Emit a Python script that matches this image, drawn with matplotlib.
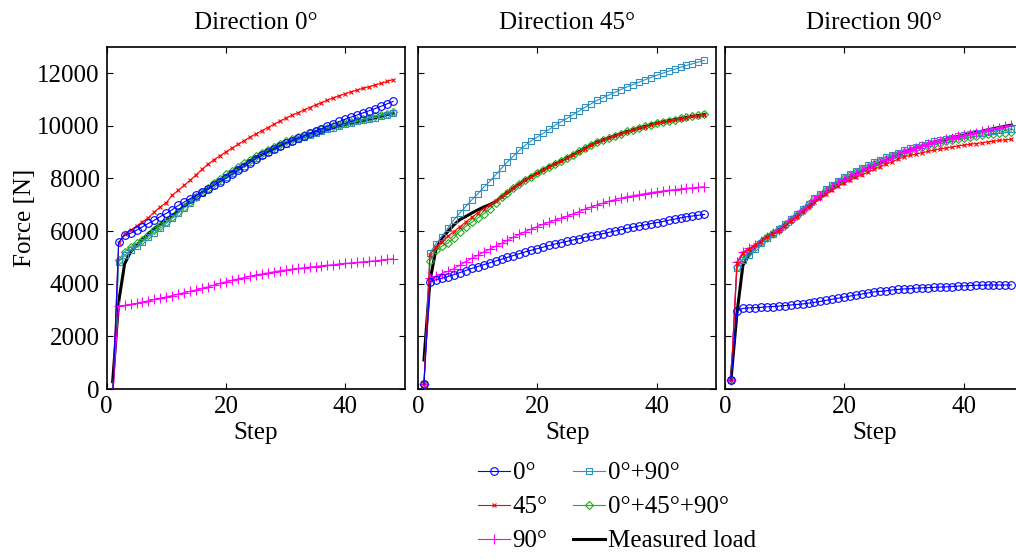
import numpy as np
import matplotlib
matplotlib.use('Agg')
import matplotlib.pyplot as plt

plt.rcParams['font.family'] = ['Liberation Serif', 'DejaVu Serif']

steps = np.arange(1, 49)
titles = ['Direction 0°', 'Direction 45°', 'Direction 90°']
labels = ['0°', '45°', '90°', '0°+90°', '0°+45°+90°', 'Measured load']

# ---- Direction 0 ----
d0_deg0 = [-300, 5565, 5840, 5910, 6030, 6160, 6290, 6410, 6550, 6670, 6810, 6970, 7100, 7230, 7360, 7480,
           7610, 7740, 7870, 8000, 8150, 8300, 8450, 8600, 8750, 8870, 8990, 9100, 9220, 9330, 9430, 9520,
           9610, 9710, 9800, 9890, 9980, 10070, 10160, 10250, 10330, 10410, 10490, 10570, 10650, 10740, 10830, 10920]
d0_deg45 = [-300, 5530, 5900, 6030, 6190, 6350, 6510, 6730, 6920, 7080, 7360, 7550, 7740, 7930, 8140, 8350,
            8540, 8710, 8860, 9010, 9150, 9290, 9430, 9560, 9690, 9810, 9930, 10050, 10170, 10280, 10390, 10490,
            10590, 10690, 10790, 10880, 10970, 11060, 11140, 11220, 11290, 11360, 11420, 11480, 11550, 11610, 11680, 11750]
d0_deg90 = [-300, 3150, 3175, 3210, 3250, 3300, 3350, 3400, 3450, 3500, 3550, 3600, 3660, 3710, 3760, 3820,
            3880, 3950, 4010, 4070, 4130, 4180, 4230, 4280, 4330, 4370, 4410, 4450, 4490, 4520, 4550, 4580,
            4600, 4630, 4650, 4680, 4700, 4720, 4750, 4770, 4790, 4810, 4830, 4850, 4870, 4890, 4920, 4940]
d0_deg0_90 = [-300, 4830, 5080, 5270, 5430, 5590, 5780, 5940, 6120, 6290, 6480, 6680, 6880, 7080, 7280, 7440,
              7600, 7760, 7910, 8060, 8200, 8340, 8480, 8620, 8760, 8880, 8990, 9100, 9210, 9320, 9410, 9490,
              9570, 9650, 9730, 9800, 9870, 9930, 9990, 10050, 10110, 10160, 10210, 10260, 10310, 10370, 10420, 10480]
d0_deg0_45_90 = [-300, 4890, 5210, 5400, 5530, 5650, 5840, 6030, 6190, 6350, 6540, 6730, 6920, 7110, 7300, 7470,
                 7640, 7810, 7980, 8150, 8290, 8430, 8570, 8710, 8850, 8960, 9070, 9180, 9290, 9400, 9480, 9560,
                 9640, 9720, 9800, 9860, 9920, 9980, 10040, 10100, 10150, 10200, 10250, 10300, 10350, 10410, 10460, 10520]
d0_measured = [280, 3300, 4750, 5210, 5460, 5680, 5900, 6100, 6260, 6420, 6590, 6760, 6940, 7120, 7300, 7460,
               7620, 7780, 7940, 8100, 8240, 8380, 8520, 8660, 8800, 8910, 9020, 9130, 9240, 9350, 9430, 9510,
               9590, 9670, 9750, 9810, 9870, 9930, 9990, 10050, 10100, 10150, 10200, 10250, 10300, 10360, 10420, 10480]

# ---- Direction 45 ----
d45_deg0 = [190, 4080, 4150, 4210, 4270, 4340, 4420, 4500, 4580, 4650, 4720, 4790, 4860, 4930, 5000, 5070,
            5140, 5210, 5270, 5330, 5390, 5450, 5510, 5560, 5610, 5660, 5710, 5760, 5800, 5850, 5900, 5950,
            6000, 6050, 6100, 6140, 6190, 6230, 6280, 6320, 6360, 6410, 6450, 6500, 6540, 6570, 6600, 6630]
d45_deg45 = [190, 5100, 5400, 5600, 5800, 5980, 6160, 6340, 6520, 6690, 6850, 7000, 7150, 7310, 7470, 7630,
             7780, 7940, 8070, 8200, 8320, 8450, 8550, 8660, 8770, 8890, 9010, 9130, 9250, 9370, 9450, 9530,
             9610, 9690, 9770, 9830, 9900, 9960, 10030, 10090, 10130, 10180, 10220, 10270, 10310, 10350, 10380, 10420]
d45_deg90 = [190, 4200, 4290, 4380, 4470, 4570, 4700, 4840, 4960, 5080, 5200, 5310, 5420, 5530, 5650, 5760,
             5880, 5980, 6080, 6170, 6260, 6340, 6420, 6490, 6560, 6650, 6740, 6830, 6910, 6990, 7060, 7130,
             7190, 7250, 7300, 7340, 7380, 7420, 7460, 7490, 7520, 7550, 7570, 7600, 7620, 7640, 7660, 7680]
d45_deg0_90 = [190, 5160, 5520, 5790, 6110, 6420, 6680, 6930, 7180, 7410, 7660, 7880, 8130, 8380, 8630, 8850,
               9070, 9260, 9430, 9570, 9710, 9860, 10020, 10150, 10280, 10420, 10560, 10700, 10830, 10960, 11060, 11160,
               11270, 11370, 11470, 11560, 11650, 11740, 11830, 11910, 11990, 12070, 12140, 12220, 12290, 12350, 12420, 12480]
d45_deg0_45_90 = [190, 4850, 5290, 5420, 5540, 5730, 5980, 6170, 6330, 6490, 6650, 6830, 7060, 7280, 7460, 7630,
                  7780, 7940, 8070, 8190, 8320, 8450, 8550, 8660, 8780, 8900, 9020, 9140, 9260, 9380, 9460, 9540,
                  9620, 9700, 9780, 9840, 9910, 9970, 10040, 10100, 10140, 10190, 10230, 10280, 10320, 10360, 10390, 10430]
d45_measured = [1100, 4100, 5300, 5730, 5980, 6230, 6430, 6550, 6680, 6800, 6910, 7000, 7120, 7290, 7460, 7630,
                7780, 7940, 8070, 8190, 8320, 8450, 8550, 8660, 8780, 8900, 9020, 9140, 9260, 9380, 9460, 9540,
                9620, 9700, 9780, 9840, 9910, 9970, 10040, 10100, 10140, 10190, 10230, 10280, 10320, 10360, 10390, 10430]

# ---- Direction 90 ----
d90_deg0 = [340, 2970, 3060, 3080, 3090, 3100, 3120, 3130, 3150, 3170, 3190, 3210, 3230, 3260, 3290, 3330,
            3370, 3410, 3450, 3490, 3530, 3570, 3610, 3650, 3690, 3710, 3730, 3760, 3780, 3800, 3810, 3830,
            3840, 3850, 3860, 3870, 3880, 3890, 3910, 3920, 3930, 3940, 3940, 3950, 3950, 3950, 3950, 3950]
d90_deg45 = [340, 4770, 5150, 5320, 5450, 5600, 5760, 5890, 6010, 6190, 6370, 6550, 6730, 6910, 7090, 7250,
             7410, 7560, 7700, 7820, 7930, 8040, 8140, 8240, 8340, 8440, 8540, 8630, 8730, 8820, 8870, 8920,
             8970, 9020, 9070, 9110, 9150, 9190, 9230, 9260, 9290, 9320, 9350, 9380, 9410, 9440, 9460, 9490]
d90_deg90 = [340, 4830, 5210, 5340, 5460, 5620, 5780, 5910, 6030, 6220, 6410, 6600, 6790, 6980, 7170, 7340,
             7510, 7680, 7830, 7950, 8060, 8170, 8280, 8390, 8490, 8590, 8690, 8800, 8900, 9000, 9080, 9160,
             9230, 9310, 9380, 9430, 9480, 9540, 9590, 9640, 9690, 9740, 9790, 9840, 9890, 9930, 9980, 10020]
d90_deg0_90 = [340, 4580, 4900, 5080, 5300, 5530, 5720, 5900, 6060, 6250, 6440, 6640, 6840, 7040, 7240, 7420,
               7600, 7760, 7910, 8040, 8160, 8280, 8400, 8510, 8620, 8710, 8800, 8890, 8980, 9070, 9140, 9200,
               9270, 9330, 9400, 9450, 9500, 9550, 9600, 9640, 9670, 9710, 9740, 9770, 9800, 9830, 9860, 9880]
d90_deg0_45_90 = [340, 4620, 4960, 5210, 5400, 5590, 5760, 5910, 6060, 6240, 6430, 6620, 6810, 7010, 7200, 7380,
                  7560, 7720, 7870, 8000, 8120, 8230, 8340, 8450, 8560, 8650, 8740, 8830, 8920, 9010, 9070, 9140,
                  9200, 9260, 9320, 9360, 9410, 9450, 9500, 9540, 9570, 9600, 9640, 9670, 9700, 9720, 9740, 9760]
d90_measured = [340, 2870, 4700, 5080, 5400, 5610, 5790, 5920, 6050, 6230, 6410, 6600, 6790, 6980, 7170, 7340,
                7510, 7680, 7830, 7950, 8060, 8170, 8280, 8390, 8490, 8590, 8690, 8800, 8900, 9000, 9080, 9160,
                9230, 9310, 9380, 9430, 9480, 9540, 9590, 9640, 9690, 9740, 9790, 9840, 9890, 9930, 9980, 10020]

panels = [
    [d0_deg0, d0_deg45, d0_deg90, d0_deg0_90, d0_deg0_45_90, d0_measured],
    [d45_deg0, d45_deg45, d45_deg90, d45_deg0_90, d45_deg0_45_90, d45_measured],
    [d90_deg0, d90_deg45, d90_deg90, d90_deg0_90, d90_deg0_45_90, d90_measured],
]

# line styles, same order as labels
styles = [
    dict(color='#0000ff', marker='o', ms=5.5, mfc='none', mew=0.8, lw=0.8),
    dict(color='#ff0000', marker='x', ms=3.5, mew=0.8, lw=0.8),
    dict(color='#ff00ff', marker='+', ms=6.5, mew=0.8, lw=0.8),
    dict(color='#2f8fc0', marker='s', ms=5, mfc='none', mew=0.8, lw=0.8),
    dict(color='#1fae1f', marker='D', ms=4.2, mfc='none', mew=0.8, lw=0.8),
    dict(color='black', lw=2.2),
]

fig = plt.figure(figsize=(10.16, 5.59), dpi=100)
W, H = 1016.0, 559.0
lefts = [106.7, 418.0, 725.0]
handles = [None] * 6

for p, (x0, series) in enumerate(zip(lefts, panels)):
    ax = fig.add_axes([x0 / W, (H - 389.0) / H, 298.3 / W, 342.3 / H])
    # draw measured first so the model curves sit on top of it
    for i in reversed(range(6)):
        ln, = ax.plot(steps, series[i], zorder=10 - i, **styles[i])
        if p == 0:
            handles[i] = ln
    ax.set_xlim(0, 50)
    ax.set_ylim(0, 13000)
    ax.set_xticks([0, 20, 40])
    ax.set_yticks(np.arange(0, 12001, 2000))
    ax.tick_params(direction='in', top=True, right=True, length=4, width=0.8,
                   labelsize=18, pad=5)
    if p > 0:
        ax.tick_params(labelleft=False)
    for s in ax.spines.values():
        s.set_linewidth(1.2)
    ax.set_title(titles[p], fontsize=18, pad=13)
    ax.set_xlabel('Step', fontsize=18, labelpad=3)
    if p == 0:
        ax.set_ylabel('Force [N]', fontsize=18, labelpad=1)

fig.legend(handles, labels, loc='center', bbox_to_anchor=(0.607, 0.093), ncol=2,
           frameon=False, numpoints=1, fontsize=18, handlelength=1.3,
           handletextpad=0.1, columnspacing=1.0, labelspacing=0.46)

fig.savefig('out.png', dpi=100)
